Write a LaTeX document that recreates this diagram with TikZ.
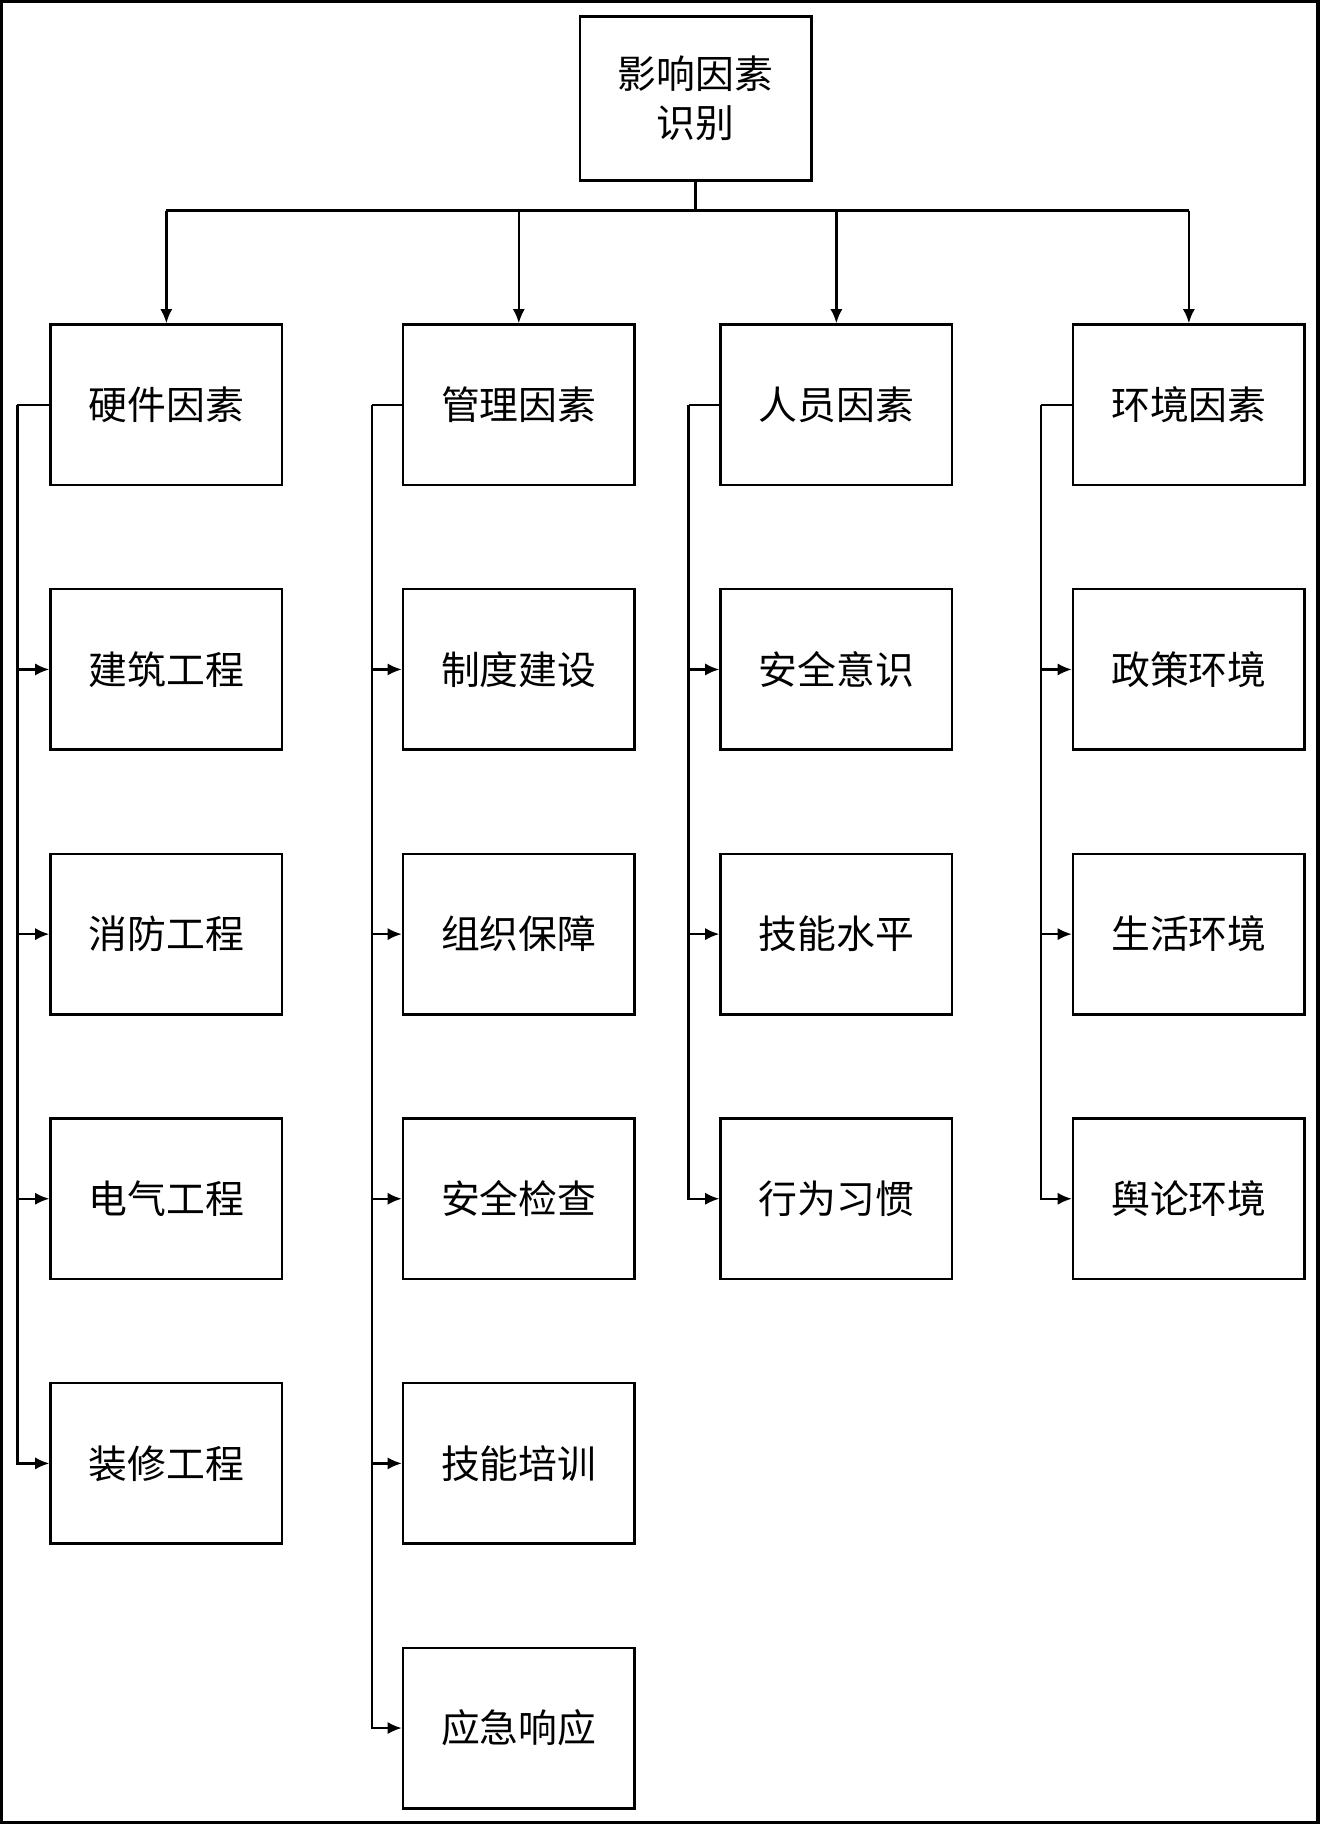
\documentclass[tikz,border=0pt]{standalone}
\usepackage{fontspec}
\setmainfont{Noto Sans CJK SC}
\usetikzlibrary{arrows.meta}
\tikzset{
  factorbox/.style={draw, line width=1.2pt, minimum width=3.98cm, minimum height=2.76cm, inner sep=0pt, font=\fontsize{19}{24}\selectfont, align=center},
  link/.style={line width=1.2pt, -{Latex[length=7pt,width=6pt]}}
}
\begin{document}
\begin{tikzpicture}[x=0.02cm,y=-0.02cm]
	\useasboundingbox (0,0) rectangle (1134,1568);
	\draw [line width=2pt] (1,1) rectangle (1133,1567);
	\node [factorbox, minimum height=2.82cm] (root) at (598,84.5) {影响因素\\识别};
	\coordinate (bus) at (598,181);
	\draw [line width=1.2pt] (root.south) -- (bus);
	% columns: x of box centre, x of side line, name, children
	\foreach \cx/\lx/\head/\kids [count=\c] in {
		143/15/硬件因素/{建筑工程,消防工程,电气工程,装修工程},
		446/320/管理因素/{制度建设,组织保障,安全检查,技能培训,应急响应},
		719/592/人员因素/{安全意识,技能水平,行为习惯},
		1022/895/环境因素/{政策环境,生活环境,舆论环境}} {
		\node [factorbox] (h\c) at (\cx,348) {\head};
		\draw [link] (bus -| h\c) -- (h\c.north);
		\coordinate (s\c) at (\lx,348);
		\draw [line width=1.2pt] (h\c.west) -- (s\c);
		\foreach \k [count=\r] in \kids {
			\node [factorbox] (k\c\r) at (\cx,{348+227.5*\r}) {\k};
			\draw [link] (s\c) |- (k\c\r.west);
		}
	}
	\draw [line width=1.2pt] (h1 |- bus) -- (h4 |- bus);
\end{tikzpicture}
\end{document}
